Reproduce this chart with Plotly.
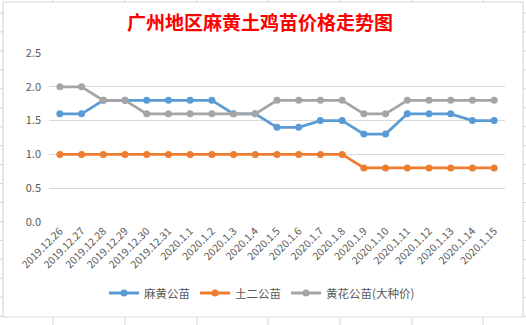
import plotly.graph_objects as go

dates = ["2019.12.26", "2019.12.27", "2019.12.28", "2019.12.29", "2019.12.30", "2019.12.31",
         "2020.1.1", "2020.1.2", "2020.1.3", "2020.1.4", "2020.1.5", "2020.1.6", "2020.1.7",
         "2020.1.8", "2020.1.9", "2020.1.10", "2020.1.11", "2020.1.12", "2020.1.13",
         "2020.1.14", "2020.1.15"]
mahuang = [1.6, 1.6, 1.8, 1.8, 1.8, 1.8, 1.8, 1.8, 1.6, 1.6, 1.4, 1.4, 1.5, 1.5, 1.3, 1.3,
           1.6, 1.6, 1.6, 1.5, 1.5]
tuer = [1.0] * 14 + [0.8] * 7
huanghua = [2.0, 2.0, 1.8, 1.8, 1.6, 1.6, 1.6, 1.6, 1.6, 1.6, 1.8, 1.8, 1.8, 1.8, 1.6, 1.6,
            1.8, 1.8, 1.8, 1.8, 1.8]
series_names = ["麻黄公苗", "土二公苗", "黄花公苗(大种价)"]
colors = ["#5B9BD5", "#ED7D31", "#A5A5A5"]

W, H = 526, 325
L, R, T, B = 49, 21, 53, 103
pw, ph = W - L - R, H - T - B


def px(x):
    return (x - L) / pw


def py(y):
    return (H - B - y) / ph


fig = go.Figure()
for name, vals, c in zip(series_names, [mahuang, tuer, huanghua], colors):
    fig.add_trace(go.Scatter(x=dates, y=vals, name=name, mode="lines+markers",
                             line=dict(color=c, width=2.8),
                             marker=dict(color=c, size=7)))

shapes = []
grid = "#D4D4D4"
# spreadsheet cell gridlines outside the chart
for xv in [53, 125, 197, 268, 340, 412, 483]:
    shapes.append(dict(type="line", xref="paper", yref="paper", x0=px(xv), x1=px(xv),
                       y0=py(0), y1=py(2), line=dict(color=grid, width=1)))
    shapes.append(dict(type="line", xref="paper", yref="paper", x0=px(xv), x1=px(xv),
                       y0=py(318), y1=py(325), line=dict(color=grid, width=1)))
k = 0
while 13 + 18.95 * k < 318:
    yv = 13 + 18.95 * k
    shapes.append(dict(type="line", xref="paper", yref="paper", x0=px(0), x1=px(3),
                       y0=py(yv), y1=py(yv), line=dict(color=grid, width=1)))
    shapes.append(dict(type="line", xref="paper", yref="paper", x0=px(523), x1=px(526),
                       y0=py(yv), y1=py(yv), line=dict(color=grid, width=1)))
    k += 1
# chart border
shapes.append(dict(type="rect", xref="paper", yref="paper", x0=px(3), x1=px(523),
                   y0=py(317), y1=py(2), line=dict(color="#D9D9D9", width=1.2),
                   fillcolor="rgba(0,0,0,0)", layer="below"))

fig.update_layout(
    width=W, height=H,
    margin=dict(l=L, r=R, t=T, b=B),
    paper_bgcolor="white", plot_bgcolor="white",
    font=dict(family="Noto Sans CJK SC, sans-serif", color="#595959"),
    title=dict(text="<b>广州地区麻黄土鸡苗价格走势图</b>",
               font=dict(family="Noto Sans CJK SC", size=19, color="#FF0000"),
               x=260 / W, xref="container", xanchor="center",
               y=1 - 23 / H, yanchor="middle"),
    xaxis=dict(type="category", range=[-0.5, 20.5], tickangle=-45,
               tickfont=dict(size=10.5, color="#595959"),
               showgrid=False, showline=False, zeroline=False, ticks=""),
    yaxis=dict(range=[0, 2.5], dtick=0.5, tickformat=".1f",
               tickfont=dict(size=11, color="#595959"),
               showgrid=True, gridcolor="#D9D9D9", gridwidth=1,
               zeroline=False, showline=False, ticks="", ticklabelstandoff=7),
    legend=dict(orientation="h", x=px(262), xanchor="center", y=py(293), yanchor="middle",
                font=dict(size=11.5, color="#595959"), itemwidth=30, tracegroupgap=0),
    shapes=shapes,
    showlegend=True,
)

fig.write_html("out.html")
